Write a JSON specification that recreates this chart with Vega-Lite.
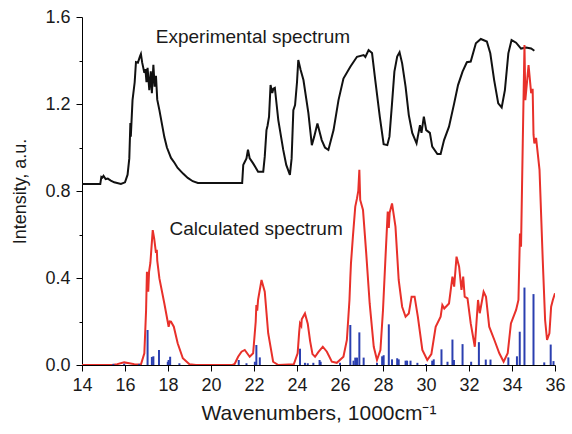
{
  "$schema": "https://vega.github.io/schema/vega-lite/v6.json",
  "width": 473,
  "height": 348,
  "autosize": {"type": "none"},
  "padding": {"left": 82, "top": 17, "right": 17, "bottom": 69},
  "config": {
    "view": {"stroke": null},
    "font": "Liberation Sans",
    "axis": {"grid": false, "domainColor": "#000", "tickColor": "#000", "labelColor": "#1a1a1a", "titleColor": "#1a1a1a", "labelFont": "Liberation Sans", "titleFont": "Liberation Sans", "titleFontWeight": "normal", "labelFontSize": 18, "domainWidth": 1, "tickWidth": 1}
  },
  "datasets": {
    "exp": [
      {"w": 14.0, "i": 0.832}, {"w": 14.85, "i": 0.832}, {"w": 14.9, "i": 0.865}, {"w": 14.95, "i": 0.862}, {"w": 15.0, "i": 0.87},
      {"w": 15.1, "i": 0.855}, {"w": 15.2, "i": 0.857}, {"w": 15.34, "i": 0.848}, {"w": 15.5, "i": 0.84}, {"w": 15.81, "i": 0.832},
      {"w": 16.0, "i": 0.84}, {"w": 16.12, "i": 0.875}, {"w": 16.2, "i": 0.95}, {"w": 16.25, "i": 1.113}, {"w": 16.27, "i": 1.05},
      {"w": 16.35, "i": 1.218}, {"w": 16.45, "i": 1.3}, {"w": 16.51, "i": 1.393}, {"w": 16.6, "i": 1.39}, {"w": 16.7, "i": 1.42},
      {"w": 16.74, "i": 1.43}, {"w": 16.8, "i": 1.39}, {"w": 16.9, "i": 1.343}, {"w": 16.95, "i": 1.36}, {"w": 17.0, "i": 1.3},
      {"w": 17.05, "i": 1.366}, {"w": 17.13, "i": 1.264}, {"w": 17.2, "i": 1.35}, {"w": 17.25, "i": 1.25}, {"w": 17.32, "i": 1.38},
      {"w": 17.38, "i": 1.28}, {"w": 17.44, "i": 1.33}, {"w": 17.5, "i": 1.22}, {"w": 17.6, "i": 1.172}, {"w": 17.83, "i": 1.048},
      {"w": 17.95, "i": 1.0}, {"w": 18.14, "i": 0.952}, {"w": 18.3, "i": 0.93}, {"w": 18.45, "i": 0.906}, {"w": 18.7, "i": 0.88},
      {"w": 18.92, "i": 0.86}, {"w": 19.15, "i": 0.845}, {"w": 19.39, "i": 0.837}, {"w": 21.45, "i": 0.837}, {"w": 21.5, "i": 0.92},
      {"w": 21.55, "i": 0.93}, {"w": 21.65, "i": 0.95}, {"w": 21.72, "i": 0.99}, {"w": 21.8, "i": 0.95}, {"w": 21.96, "i": 0.927},
      {"w": 22.19, "i": 0.889}, {"w": 22.43, "i": 0.889}, {"w": 22.5, "i": 0.958}, {"w": 22.58, "i": 1.08}, {"w": 22.63, "i": 1.1},
      {"w": 22.7, "i": 1.142}, {"w": 22.77, "i": 1.287}, {"w": 22.85, "i": 1.25}, {"w": 22.9, "i": 1.27}, {"w": 22.97, "i": 1.274},
      {"w": 23.05, "i": 1.2}, {"w": 23.13, "i": 1.126}, {"w": 23.36, "i": 0.989}, {"w": 23.5, "i": 0.92}, {"w": 23.67, "i": 0.874},
      {"w": 23.75, "i": 0.95}, {"w": 23.83, "i": 1.172}, {"w": 23.91, "i": 1.195}, {"w": 24.0, "i": 1.3}, {"w": 24.06, "i": 1.402},
      {"w": 24.17, "i": 1.356}, {"w": 24.3, "i": 1.31}, {"w": 24.53, "i": 1.158}, {"w": 24.69, "i": 1.011}, {"w": 24.8, "i": 1.05},
      {"w": 24.95, "i": 1.11}, {"w": 25.15, "i": 1.034}, {"w": 25.3, "i": 1.0}, {"w": 25.46, "i": 0.989}, {"w": 25.7, "i": 1.08},
      {"w": 25.93, "i": 1.218}, {"w": 26.16, "i": 1.317}, {"w": 26.48, "i": 1.371}, {"w": 26.79, "i": 1.417}, {"w": 27.1, "i": 1.425},
      {"w": 27.18, "i": 1.416}, {"w": 27.33, "i": 1.448}, {"w": 27.49, "i": 1.434}, {"w": 27.64, "i": 1.31}, {"w": 27.85, "i": 1.142},
      {"w": 28.03, "i": 1.015}, {"w": 28.2, "i": 1.011}, {"w": 28.3, "i": 1.05}, {"w": 28.42, "i": 1.203}, {"w": 28.53, "i": 1.349},
      {"w": 28.66, "i": 1.418}, {"w": 28.77, "i": 1.438}, {"w": 28.89, "i": 1.387}, {"w": 29.05, "i": 1.28}, {"w": 29.2, "i": 1.149},
      {"w": 29.36, "i": 1.067}, {"w": 29.56, "i": 1.019}, {"w": 29.72, "i": 1.103}, {"w": 29.79, "i": 1.067}, {"w": 29.9, "i": 1.142},
      {"w": 30.01, "i": 1.08}, {"w": 30.18, "i": 1.067}, {"w": 30.29, "i": 1.004}, {"w": 30.53, "i": 0.97}, {"w": 30.68, "i": 0.97},
      {"w": 30.84, "i": 1.034}, {"w": 31.07, "i": 1.096}, {"w": 31.31, "i": 1.203}, {"w": 31.49, "i": 1.287}, {"w": 31.7, "i": 1.349},
      {"w": 31.9, "i": 1.392}, {"w": 32.08, "i": 1.395}, {"w": 32.32, "i": 1.479}, {"w": 32.55, "i": 1.499}, {"w": 32.83, "i": 1.487},
      {"w": 32.99, "i": 1.433}, {"w": 33.17, "i": 1.31}, {"w": 33.36, "i": 1.203}, {"w": 33.52, "i": 1.184}, {"w": 33.67, "i": 1.264},
      {"w": 33.83, "i": 1.433}, {"w": 33.98, "i": 1.494}, {"w": 34.19, "i": 1.482}, {"w": 34.42, "i": 1.455}, {"w": 34.65, "i": 1.46},
      {"w": 34.89, "i": 1.455}, {"w": 35.04, "i": 1.445}
    ],
    "calc": [
      {"w": 14.0, "i": 0}, {"w": 15.4, "i": 0}, {"w": 15.64, "i": 0.004}, {"w": 15.96, "i": 0.012}, {"w": 16.2, "i": 0.008},
      {"w": 16.43, "i": 0.004}, {"w": 16.74, "i": 0.002}, {"w": 16.9, "i": 0.054}, {"w": 16.98, "i": 0.25}, {"w": 17.02, "i": 0.429},
      {"w": 17.08, "i": 0.337}, {"w": 17.12, "i": 0.43}, {"w": 17.18, "i": 0.469}, {"w": 17.29, "i": 0.62}, {"w": 17.36, "i": 0.58},
      {"w": 17.44, "i": 0.515}, {"w": 17.48, "i": 0.53}, {"w": 17.5, "i": 0.48}, {"w": 17.6, "i": 0.398}, {"w": 17.83, "i": 0.283},
      {"w": 18.03, "i": 0.176}, {"w": 18.08, "i": 0.2}, {"w": 18.14, "i": 0.199}, {"w": 18.27, "i": 0.176}, {"w": 18.45, "i": 0.1},
      {"w": 18.69, "i": 0.031}, {"w": 19.0, "i": 0.003}, {"w": 19.3, "i": 0}, {"w": 21.0, "i": 0}, {"w": 21.1, "i": 0.005},
      {"w": 21.26, "i": 0.038}, {"w": 21.42, "i": 0.061}, {"w": 21.57, "i": 0.069}, {"w": 21.8, "i": 0.038}, {"w": 21.96, "i": 0.054},
      {"w": 22.08, "i": 0.2}, {"w": 22.11, "i": 0.276}, {"w": 22.15, "i": 0.25}, {"w": 22.19, "i": 0.3}, {"w": 22.35, "i": 0.391},
      {"w": 22.5, "i": 0.337}, {"w": 22.66, "i": 0.146}, {"w": 22.89, "i": 0.015}, {"w": 23.13, "i": 0}, {"w": 23.85, "i": 0.003},
      {"w": 24.03, "i": 0.054}, {"w": 24.1, "i": 0.15}, {"w": 24.14, "i": 0.191}, {"w": 24.2, "i": 0.18}, {"w": 24.22, "i": 0.21},
      {"w": 24.37, "i": 0.237}, {"w": 24.5, "i": 0.19}, {"w": 24.61, "i": 0.11}, {"w": 24.72, "i": 0.05}, {"w": 24.84, "i": 0.038},
      {"w": 25.0, "i": 0.06}, {"w": 25.2, "i": 0.084}, {"w": 25.39, "i": 0.061}, {"w": 25.62, "i": 0.015}, {"w": 25.85, "i": 0.01},
      {"w": 26.16, "i": 0.038}, {"w": 26.32, "i": 0.115}, {"w": 26.44, "i": 0.299}, {"w": 26.48, "i": 0.4}, {"w": 26.51, "i": 0.467},
      {"w": 26.6, "i": 0.59}, {"w": 26.71, "i": 0.728}, {"w": 26.79, "i": 0.766}, {"w": 26.85, "i": 0.8}, {"w": 26.9, "i": 0.897},
      {"w": 26.94, "i": 0.759}, {"w": 27.07, "i": 0.713}, {"w": 27.22, "i": 0.513}, {"w": 27.38, "i": 0.283}, {"w": 27.57, "i": 0.084},
      {"w": 27.72, "i": 0.023}, {"w": 27.88, "i": 0.069}, {"w": 28.0, "i": 0.253}, {"w": 28.11, "i": 0.483}, {"w": 28.22, "i": 0.705},
      {"w": 28.27, "i": 0.63}, {"w": 28.31, "i": 0.7}, {"w": 28.42, "i": 0.743}, {"w": 28.58, "i": 0.636}, {"w": 28.73, "i": 0.391},
      {"w": 28.89, "i": 0.268}, {"w": 29.05, "i": 0.222}, {"w": 29.2, "i": 0.237}, {"w": 29.33, "i": 0.314}, {"w": 29.47, "i": 0.314},
      {"w": 29.62, "i": 0.222}, {"w": 29.83, "i": 0.069}, {"w": 30.06, "i": 0.023}, {"w": 30.25, "i": 0.05}, {"w": 30.45, "i": 0.176},
      {"w": 30.68, "i": 0.222}, {"w": 30.76, "i": 0.276}, {"w": 30.85, "i": 0.26}, {"w": 31.07, "i": 0.283}, {"w": 31.23, "i": 0.406},
      {"w": 31.31, "i": 0.36}, {"w": 31.42, "i": 0.498}, {"w": 31.54, "i": 0.452}, {"w": 31.65, "i": 0.345}, {"w": 31.73, "i": 0.406},
      {"w": 31.8, "i": 0.314}, {"w": 31.93, "i": 0.306}, {"w": 32.08, "i": 0.191}, {"w": 32.27, "i": 0.084}, {"w": 32.42, "i": 0.299},
      {"w": 32.5, "i": 0.238}, {"w": 32.68, "i": 0.337}, {"w": 32.79, "i": 0.314}, {"w": 32.94, "i": 0.176}, {"w": 33.18, "i": 0.115},
      {"w": 33.41, "i": 0.054}, {"w": 33.61, "i": 0.015}, {"w": 33.8, "i": 0.054}, {"w": 33.95, "i": 0.191}, {"w": 34.19, "i": 0.253},
      {"w": 34.3, "i": 0.299}, {"w": 34.37, "i": 0.605}, {"w": 34.42, "i": 0.544}, {"w": 34.5, "i": 1.019}, {"w": 34.58, "i": 1.471},
      {"w": 34.62, "i": 1.218}, {"w": 34.77, "i": 1.379}, {"w": 34.89, "i": 1.25}, {"w": 34.96, "i": 1.27}, {"w": 35.0, "i": 1.06},
      {"w": 35.04, "i": 1.019}, {"w": 35.12, "i": 1.044}, {"w": 35.28, "i": 0.897}, {"w": 35.43, "i": 0.483}, {"w": 35.54, "i": 0.207},
      {"w": 35.63, "i": 0.115}, {"w": 35.74, "i": 0.146}, {"w": 35.82, "i": 0.268}, {"w": 35.9, "i": 0.299}, {"w": 36.0, "i": 0.33}
    ],
    "sticks": [
      {"w": 15.46, "i": 0.005}, {"w": 15.96, "i": 0.006}, {"w": 16.66, "i": 0.005}, {"w": 17.05, "i": 0.161}, {"w": 17.25, "i": 0.037},
      {"w": 17.32, "i": 0.04}, {"w": 17.58, "i": 0.069}, {"w": 17.99, "i": 0.015}, {"w": 18.03, "i": 0.023}, {"w": 18.1, "i": 0.038},
      {"w": 18.53, "i": 0.008}, {"w": 21.29, "i": 0.023}, {"w": 21.65, "i": 0.008}, {"w": 22.04, "i": 0.015}, {"w": 22.11, "i": 0.092},
      {"w": 22.27, "i": 0.035}, {"w": 24.14, "i": 0.075}, {"w": 24.37, "i": 0.01}, {"w": 24.5, "i": 0.008}, {"w": 24.76, "i": 0.01},
      {"w": 25.05, "i": 0.023}, {"w": 25.1, "i": 0.015}, {"w": 26.0, "i": 0.01}, {"w": 26.48, "i": 0.184}, {"w": 26.63, "i": 0.02},
      {"w": 26.71, "i": 0.034}, {"w": 26.79, "i": 0.034}, {"w": 26.9, "i": 0.15}, {"w": 27.1, "i": 0.034}, {"w": 27.72, "i": 0.01},
      {"w": 27.96, "i": 0.04}, {"w": 28.03, "i": 0.045}, {"w": 28.27, "i": 0.187}, {"w": 28.42, "i": 0.026}, {"w": 28.66, "i": 0.031},
      {"w": 28.73, "i": 0.026}, {"w": 29.05, "i": 0.02}, {"w": 29.12, "i": 0.02}, {"w": 29.28, "i": 0.02}, {"w": 29.6, "i": 0.01},
      {"w": 30.0, "i": 0.005}, {"w": 30.29, "i": 0.02}, {"w": 30.36, "i": 0.026}, {"w": 30.72, "i": 0.072}, {"w": 31.0, "i": 0.015},
      {"w": 31.23, "i": 0.117}, {"w": 31.3, "i": 0.023}, {"w": 31.7, "i": 0.096}, {"w": 32.1, "i": 0.015}, {"w": 32.46, "i": 0.105},
      {"w": 32.78, "i": 0.025}, {"w": 33.0, "i": 0.025}, {"w": 33.83, "i": 0.035}, {"w": 34.23, "i": 0.04}, {"w": 34.36, "i": 0.153},
      {"w": 34.58, "i": 0.356}, {"w": 35.0, "i": 0.326}, {"w": 35.5, "i": 0.012}, {"w": 35.8, "i": 0.094}, {"w": 35.93, "i": 0.018}
    ],
    "labels": [
      {"w": 21.95, "i": 1.507, "t": "Experimental spectrum"},
      {"w": 22.1, "i": 0.625, "t": "Calculated spectrum"}
    ]
  },
  "layer": [
    {
      "data": {"name": "exp"},
      "mark": {"type": "line", "color": "#111111", "strokeWidth": 2, "clip": true},
      "encoding": {
        "x": {"field": "w", "type": "quantitative", "scale": {"domain": [14, 36], "nice": false, "zero": false},
          "axis": {"orient": "bottom", "values": [14, 15, 16, 17, 18, 19, 20, 21, 22, 23, 24, 25, 26, 27, 28, 29, 30, 31, 32, 33, 34, 35, 36],
            "tickSize": {"condition": {"test": "datum.value % 2 === 0", "value": 6}, "value": 3},
            "labelExpr": "datum.value % 2 === 0 ? datum.label : ''",
            "labelPadding": 5, "labelFlush": false, "labelOverlap": false,
            "title": "Wavenumbers, 1000cm\u207b\u00b9", "titleFontSize": 21, "titlePadding": 8}},
        "y": {"field": "i", "type": "quantitative", "scale": {"domain": [0, 1.6], "nice": false, "zero": false},
          "axis": {"orient": "left", "values": [0, 0.2, 0.4, 0.6, 0.8, 1.0, 1.2, 1.4, 1.6],
            "tickSize": {"condition": {"test": "round(datum.value * 10) % 4 === 0", "value": 6}, "value": 3},
            "labelExpr": "round(datum.value * 10) % 4 === 0 ? format(datum.value, '.1f') : ''",
            "labelPadding": 6, "labelFlush": false, "labelOverlap": false,
            "title": "Intensity, a.u.", "titleFontSize": 18, "titlePadding": 15}}
      }
    },
    {
      "data": {"name": "calc"},
      "mark": {"type": "line", "color": "#e8302a", "strokeWidth": 2, "clip": true},
      "encoding": {
        "x": {"field": "w", "type": "quantitative"},
        "y": {"field": "i", "type": "quantitative"}
      }
    },
    {
      "data": {"name": "sticks"},
      "mark": {"type": "rule", "color": "#2b3fb0", "strokeWidth": 2},
      "encoding": {
        "x": {"field": "w", "type": "quantitative"},
        "y": {"field": "i", "type": "quantitative"},
        "y2": {"datum": 0}
      }
    },
    {
      "data": {"name": "labels"},
      "mark": {"type": "text", "fontSize": 19, "font": "Liberation Sans", "color": "#1a1a1a", "align": "center", "baseline": "middle"},
      "encoding": {
        "x": {"field": "w", "type": "quantitative"},
        "y": {"field": "i", "type": "quantitative"},
        "text": {"field": "t"}
      }
    }
  ]
}
